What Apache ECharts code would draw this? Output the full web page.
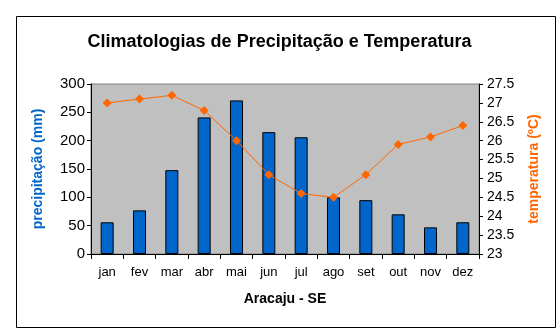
<!DOCTYPE html>
<html>
<head>
<meta charset="utf-8">
<script src="https://cdn.jsdelivr.net/npm/echarts@6/dist/echarts.min.js"></script>
<style>html,body{margin:0;padding:0;background:#fff}#c{width:559px;height:335px}</style>
</head>
<body>
<div id="c"></div>
<script>
const months = ['jan','fev','mar','abr','mai','jun','jul','ago','set','out','nov','dez'];
const precipitacao = [56, 77, 148, 241, 271, 215, 206, 100, 95, 70, 47, 56];
const temperatura = [27.0, 27.1, 27.2, 26.8, 26.0, 25.1, 24.6, 24.5, 25.1, 25.9, 26.1, 26.4];
const leftTicks = [0, 50, 100, 150, 200, 250, 300];
const rightTicks = [23, 23.5, 24, 24.5, 25, 25.5, 26, 26.5, 27, 27.5];

const FONT = 'Liberation Sans, Arial, sans-serif';
const chart = echarts.init(document.getElementById('c'), null, {renderer: 'canvas'});
chart.setOption({
  animation: false,
  backgroundColor: '#fff',
  title: {
    text: 'Climatologias de Precipitação e Temperatura',
    left: 'center', top: 28,
    textStyle: {fontFamily: FONT, fontSize: 18, fontWeight: 'bold', color: '#000'}
  },
  graphic: [{
    type: 'rect', shape: {x: 16.5, y: 16.5, width: 539, height: 311},
    style: {fill: 'none', stroke: '#000', lineWidth: 1}, z: -1
  }],
  grid: {
    left: 91, right: 80, top: 84, bottom: 81,
    show: true, backgroundColor: '#C0C0C0', borderColor: '#808080', borderWidth: 1
  },
  xAxis: {
    type: 'category', data: months, boundaryGap: true,
    name: 'Aracaju - SE', nameLocation: 'middle', nameGap: 38,
    nameTextStyle: {fontFamily: FONT, fontSize: 14, fontWeight: 'bold', color: '#000'},
    axisLine: {lineStyle: {color: '#000', width: 1}},
    axisTick: {show: true, length: 5, alignWithLabel: false, lineStyle: {color: '#000'}},
    axisLabel: {fontFamily: FONT, fontSize: 13, color: '#000', margin: 12, interval: 0},
    splitLine: {show: false}
  },
  yAxis: [{
    type: 'value', min: 0, max: 300, interval: 50, position: 'left',
    name: 'precipitação (mm)', nameLocation: 'middle', nameGap: 46, nameRotate: 90,
    nameTextStyle: {fontFamily: FONT, fontSize: 14, fontWeight: 'bold', color: '#0066CC'},
    axisLine: {show: true, lineStyle: {color: '#000', width: 1}},
    axisTick: {show: true, length: 4, lineStyle: {color: '#000'}},
    axisLabel: {fontFamily: FONT, fontSize: 15, color: '#000', margin: 6,
      formatter: v => leftTicks.includes(v) ? String(v) : ''},
    splitLine: {show: false}
  }, {
    type: 'value', min: 23, max: 27.5, interval: 0.5, position: 'right',
    name: 'temperatura (ºC)', nameLocation: 'middle', nameGap: 48, nameRotate: 90,
    nameTextStyle: {fontFamily: FONT, fontSize: 14, fontWeight: 'bold', color: '#FF6600'},
    axisLine: {show: true, lineStyle: {color: '#000', width: 1}},
    axisTick: {show: true, length: 4, lineStyle: {color: '#000'}},
    axisLabel: {fontFamily: FONT, fontSize: 14, color: '#000', margin: 8,
      formatter: v => { const r = rightTicks.find(t => Math.abs(t - v) < 1e-6); return r === undefined ? '' : String(r); }},
    splitLine: {show: false}
  }],
  series: [{
    type: 'bar', data: precipitacao, yAxisIndex: 0, barWidth: 13,
    itemStyle: {color: '#0066CC', borderColor: '#000', borderWidth: 1}
  }, {
    type: 'line', data: temperatura, yAxisIndex: 1,
    symbol: 'diamond', symbolSize: 9, smooth: false,
    lineStyle: {color: '#FF6600', width: 1},
    itemStyle: {color: '#FF6600'}
  }]
});
</script>
</body>
</html>
